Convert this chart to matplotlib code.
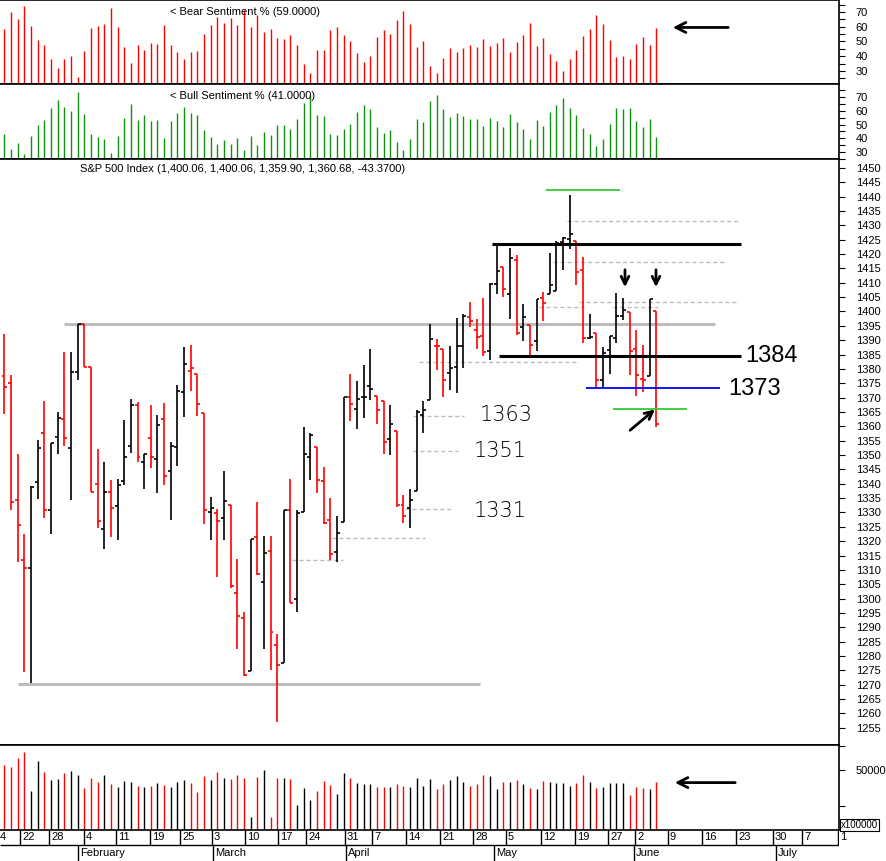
import numpy as np
import matplotlib
matplotlib.use("Agg")
from matplotlib import pyplot as plt

# daily bars, oldest first
opens = [1377.4, 1375.1, 1334.2, 1313.4, 1310.6, 1340.5, 1357.5, 1330.7, 1356.2, 1362.5,
         1352.3, 1378.8, 1395.5, 1380.5, 1339.8, 1324.1, 1337.0, 1332.1, 1340.8, 1353.0,
         1367.3, 1347.7, 1355.8, 1348.5, 1362.5, 1344.3, 1352.7, 1371.8, 1379.2, 1378.2,
         1364.5, 1330.3, 1329.7, 1327.9, 1332.5, 1301.8, 1293.4, 1274.6, 1321.3, 1305.6,
         1316.4, 1283.7, 1277.5, 1331.0, 1299.7, 1330.3, 1349.2, 1352.7, 1340.8, 1327.2,
         1316.2, 1326.5, 1370.1, 1365.9, 1370.1, 1373.9, 1370.4, 1368.7, 1355.5, 1358.5,
         1332.7, 1331.6, 1337.3, 1363.8, 1369.0, 1388.1, 1386.8, 1378.4, 1380.7, 1388.1,
         1398.2, 1393.7, 1391.6, 1386.3, 1409.7, 1415.4, 1406.1, 1417.8, 1394.6, 1395.3,
         1389.7, 1404.7, 1406.0, 1407.0, 1424.1, 1425.3, 1424.6, 1414.3, 1390.8, 1392.4,
         1376.0, 1386.7, 1390.6, 1398.3, 1399.7, 1386.9, 1376.5, 1377.4, 1400.06]
highs = [1392.2, 1377.8, 1350.3, 1322.5, 1339.2, 1355.2, 1368.8, 1354.2, 1365.0, 1385.9,
         1385.9, 1395.5, 1395.5, 1380.5, 1352.1, 1347.5, 1341.3, 1341.5, 1362.2, 1369.4,
         1368.5, 1350.3, 1367.4, 1363.9, 1368.1, 1354.5, 1374.4, 1387.6, 1388.3, 1378.2,
         1364.5, 1335.4, 1331.2, 1344.4, 1332.5, 1313.8, 1295.3, 1320.6, 1333.6, 1321.8,
         1321.8, 1287.6, 1330.7, 1341.6, 1330.7, 1359.7, 1357.6, 1352.7, 1345.8, 1335.0,
         1328.7, 1370.3, 1378.2, 1375.8, 1381.4, 1387.0, 1370.4, 1368.7, 1367.5, 1358.5,
         1336.2, 1338.3, 1365.6, 1368.7, 1395.8, 1390.4, 1386.8, 1388.1, 1397.8, 1399.1,
         1403.3, 1397.5, 1404.8, 1410.0, 1422.9, 1415.4, 1422.1, 1419.6, 1402.6, 1395.3,
         1404.5, 1406.8, 1420.4, 1424.5, 1425.8, 1440.6, 1424.6, 1418.9, 1399.1, 1392.4,
         1387.5, 1391.6, 1406.4, 1404.8, 1399.7, 1393.6, 1388.4, 1404.3, 1400.06]
lows = [1364.4, 1330.9, 1312.8, 1274.5, 1270.7, 1334.8, 1328.2, 1322.6, 1350.3, 1353.1,
        1334.4, 1376.1, 1380.5, 1337.0, 1324.7, 1317.4, 1321.5, 1320.5, 1339.5, 1350.8,
        1347.7, 1338.3, 1345.6, 1336.9, 1339.7, 1327.5, 1346.2, 1363.4, 1372.3, 1363.7,
        1326.1, 1320.5, 1307.6, 1320.5, 1303.8, 1282.5, 1273.2, 1274.6, 1308.3, 1282.5,
        1275.2, 1257.1, 1277.5, 1298.5, 1295.4, 1330.3, 1341.4, 1336.9, 1326.1, 1313.5,
        1312.7, 1326.5, 1362.0, 1359.2, 1363.0, 1369.3, 1360.9, 1350.5, 1350.1, 1332.0,
        1326.4, 1324.7, 1337.3, 1357.8, 1369.0, 1379.7, 1370.3, 1372.8, 1371.7, 1380.4,
        1394.7, 1387.0, 1384.6, 1383.2, 1406.2, 1404.9, 1397.5, 1391.7, 1389.8, 1384.6,
        1386.3, 1396.8, 1406.0, 1407.0, 1414.5, 1421.8, 1409.3, 1389.1, 1390.5, 1373.8,
        1373.2, 1378.3, 1388.9, 1397.0, 1378.0, 1370.7, 1371.8, 1377.4, 1359.90]
closes = [1373.7, 1333.5, 1325.5, 1310.6, 1338.7, 1352.4, 1330.7, 1354.2, 1362.8, 1355.9,
          1378.8, 1395.5, 1380.8, 1337.0, 1326.9, 1337.0, 1331.4, 1339.5, 1349.3, 1367.3,
          1349.3, 1350.3, 1349.3, 1360.3, 1342.7, 1353.0, 1372.2, 1381.7, 1380.2, 1367.6,
          1330.7, 1331.4, 1326.9, 1333.9, 1304.5, 1293.9, 1273.5, 1320.6, 1308.7, 1315.7,
          1288.2, 1276.7, 1330.7, 1298.5, 1329.7, 1350.2, 1356.9, 1341.2, 1326.4, 1315.4,
          1322.8, 1370.3, 1367.6, 1369.4, 1370.3, 1372.9, 1365.6, 1354.4, 1360.7, 1332.7,
          1328.9, 1334.5, 1364.9, 1365.6, 1390.3, 1388.1, 1376.0, 1380.2, 1388.1, 1398.5,
          1396.6, 1391.2, 1386.0, 1409.5, 1414.1, 1407.8, 1418.5, 1392.6, 1398.1, 1388.3,
          1404.3, 1403.1, 1409.1, 1423.9, 1425.5, 1427.0, 1413.6, 1390.8, 1391.0, 1376.0,
          1385.6, 1391.3, 1398.5, 1400.4, 1386.1, 1377.9, 1376.1, 1404.3, 1360.68]

bear = [58.5, 70.0, 65.3, 74.3, 60.7, 51.0, 47.6, 38.1, 32.0, 38.1, 40.2, 25.9, 43.6, 59.2,
        60.5, 61.9, 72.7, 59.8, 46.3, 35.4, 47.6, 44.2, 49.0, 48.3, 61.2, 47.6, 42.9, 38.1,
        42.9, 43.6, 55.1, 61.2, 66.6, 62.5, 65.9, 61.2, 71.4, 59.8, 68.0, 56.4, 58.5, 52.4,
        51.7, 54.4, 47.6, 34.7, 28.6, 44.2, 44.2, 57.8, 59.8, 54.4, 50.3, 42.2, 36.1, 40.2,
        53.1, 57.8, 55.1, 64.6, 70.7, 61.9, 46.3, 50.3, 33.4, 28.6, 38.8, 45.6, 42.9, 45.6,
        47.6, 46.3, 51.7, 46.9, 49.0, 52.4, 42.9, 49.7, 54.4, 62.5, 46.9, 52.4, 41.5, 36.8,
        30.0, 38.1, 44.2, 53.7, 58.5, 68.0, 61.9, 51.0, 39.5, 40.2, 38.1, 48.3, 53.1, 47.6,
        59.0]
bull = [43.1, 32.2, 36.5, 28.5, 41.6, 49.6, 53.3, 62.0, 67.8, 62.7, 59.8, 73.6, 57.6, 43.1,
        40.9, 39.5, 29.3, 41.6, 54.7, 64.9, 53.3, 56.9, 52.5, 53.3, 40.2, 52.5, 58.4, 62.7,
        58.4, 56.9, 46.0, 40.9, 35.8, 38.7, 35.8, 40.2, 31.5, 41.6, 35.1, 44.5, 42.4, 49.6,
        49.6, 46.7, 54.0, 65.6, 71.5, 56.9, 56.2, 43.1, 42.4, 46.7, 50.4, 59.1, 64.2, 61.3,
        48.2, 43.8, 46.0, 37.3, 31.5, 39.5, 54.0, 51.8, 67.1, 71.5, 61.3, 55.5, 58.4, 56.2,
        54.0, 54.0, 48.9, 54.7, 52.5, 48.2, 57.6, 51.8, 46.7, 39.5, 53.3, 48.9, 59.1, 64.2,
        69.3, 62.0, 56.9, 47.5, 43.1, 34.4, 39.5, 50.4, 62.0, 61.3, 62.0, 52.5, 48.2, 54.0,
        41.0]
volume = [54167, 52778, 60278, 65000, 32778, 57500, 48333, 41667, 42500, 47778, 49167, 45833,
          35278, 43611, 40278, 45833, 38611, 35833, 40833, 39722, 36944, 35833, 36944, 39167,
          37500, 35833, 39722, 41944, 39167, 31944, 44722, 41944, 48333, 43611, 42500, 45833,
          43611, 10833, 44167, 50000, 10833, 43611, 43611, 42500, 20833, 35278, 25278, 32500,
          40833, 37500, 30278, 47778, 43611, 39167, 38056, 38056, 35833, 35833, 35833, 38056,
          36389, 35833, 43611, 36389, 42500, 34167, 38611, 41944, 45278, 39722, 36944, 38611,
          45833, 45278, 34167, 39722, 40278, 41389, 38611, 35278, 34167, 40833, 39722, 39167,
          39167, 36944, 39167, 45833, 40278, 34722, 35833, 39167, 39167, 39167, 29167, 35833,
          35278, 34167, 40278]

day_labels = ['4', '22', '28', '4', '11', '19', '25', '3', '10', '17', '24', '31', '7', '14',
              '21', '28', '5', '12', '19', '27', '2', '9', '16', '23', '30', '7', '1']
day_px = [-2, 20, 49, 84, 116, 150, 180, 212, 245, 278, 306, 345, 372, 406, 440, 473, 506,
          541, 575, 608, 635, 668, 702, 736, 773, 802, 838]
months = ['February', 'March', 'April', 'May', 'June', 'July']
month_px = [78, 213, 346, 494, 634, 776]


def px2x(p):
    return (np.asarray(p, dtype=float) - 4.5) / 6.65


W, H = 887, 861
fig = plt.figure(figsize=(W / 100, H / 100), dpi=100)
plt.rcParams["font.family"] = "Liberation Sans"
FS = 8
LW = 1.0
XL = (px2x(0), px2x(839))


def band(top, bottom):
    return [0, 1 - bottom / H, 839 / W, (bottom - top) / H]


def style(ax):
    ax.set_xlim(*XL)
    ax.yaxis.tick_right()
    ax.tick_params(axis='y', labelsize=FS, length=4, width=0.8, pad=8)
    ax.tick_params(axis='y', which='minor', length=4, width=0.8)
    ax.set_xticks([])
    ax.spines['left'].set_visible(False)
    for s in ('top', 'bottom', 'right'):
        ax.spines[s].set_linewidth(1.2)


ax_bear = fig.add_axes(band(0, 84))
ax_bull = fig.add_axes(band(84, 159))
ax_px = fig.add_axes(band(159, 745))
ax_vol = fig.add_axes(band(745, 830))
ax_dt = fig.add_axes([0, 0, 839 / W, 31 / H])

# sentiment panels
xb = np.arange(len(bear))
ax_bear.vlines(xb, 0, bear, color='#ff0000', lw=LW)
ax_bear.set_ylim(21.2, 78.1)
ax_bear.set_yticks([30, 40, 50, 60, 70])
ax_bear.set_yticks([25, 35, 45, 55, 65, 75], minor=True)
style(ax_bear)
ax_bear.text(px2x(170), 70, '< Bear Sentiment % (59.0000)', fontsize=FS, va='center')
ax_bear.annotate('', xy=(px2x(670), 59.5), xytext=(px2x(731), 59.5),
                 arrowprops=dict(arrowstyle='->', lw=2, color='black', mutation_scale=18))

xu = np.arange(len(bull))
ax_bull.vlines(xu, 0, bull, color='#109010', lw=LW)
ax_bull.set_ylim(24.9, 79.5)
ax_bull.set_yticks([30, 40, 50, 60, 70])
ax_bull.set_yticks([25, 35, 45, 55, 65, 75], minor=True)
style(ax_bull)
ax_bull.text(px2x(170), 71, '< Bull Sentiment % (41.0000)', fontsize=FS, va='center')

# price bars
x = np.arange(len(closes))
prev = np.r_[closes[0], closes[:-1]]
cols = np.where(np.asarray(closes) < prev, '#ff0000', 'black')
cols[0] = '#ff0000'
tk = 0.45
ax_px.vlines(x, lows, highs, colors=cols, lw=1.2)
ax_px.hlines(opens, x - tk, x, colors=cols, lw=1.2)
ax_px.hlines(closes, x, x + tk, colors=cols, lw=1.2)
ax_px.set_ylim(1249.0, 1453.1)
ax_px.set_yticks(np.arange(1255, 1451, 5))
style(ax_px)
ax_px.text(px2x(80), 1449.5, 'S&P 500 Index (1,400.06, 1,400.06, 1,359.90, 1,360.68, -43.3700)',
           fontsize=FS, va='center')

# support / resistance lines
ax_px.hlines(1395.5, px2x(64), px2x(715), color='#bdbdbd', lw=2.2, zorder=0)
ax_px.hlines(1270.2, px2x(18), px2x(480), color='#bdbdbd', lw=2.2, zorder=0)
ax_px.hlines([1423.5, 1384.4], [px2x(492), px2x(499)], px2x(741), color='black', lw=2.2)
ax_px.hlines(1373.2, px2x(586), px2x(720), color='#0000ff', lw=1.3)
ax_px.hlines(1366.0, px2x(613), px2x(687), color='#33cc33', lw=1.3)
ax_px.hlines(1442.2, px2x(546), px2x(620), color='#33cc33', lw=1.3)
dash_y = [1431.4, 1417.1, 1403.2, 1401.5, 1401.5, 1382.4, 1363.5, 1351.4, 1331.2, 1321.0, 1313.4]
dash_a = [567, 553, 579, 539, 613, 419, 413, 413, 405, 332, 292]
dash_b = [738, 724, 738, 584, 658, 578, 464, 458, 452, 425, 343]
ax_px.hlines(dash_y, px2x(dash_a), px2x(dash_b), color='#bdbdbd', lw=1, linestyles=(0, (3, 2)),
             zorder=0)

hand = dict(fontsize=15, family='DejaVu Sans', fontweight='light', va='center')
ax_px.text(px2x(480), 1363.8, '1363', **hand)
ax_px.text(px2x(474), 1351.5, '1351', **hand)
ax_px.text(px2x(474), 1330.5, '1331', **hand)
ax_px.text(px2x(745), 1384.5, '1384', fontsize=17, va='center')
ax_px.text(px2x(728), 1373.0, '1373', fontsize=17, va='center')
arr = dict(arrowstyle='->', lw=2, color='black', mutation_scale=14)
ax_px.annotate('', xy=(px2x(625), 1407.5), xytext=(px2x(625), 1415.5), arrowprops=arr)
ax_px.annotate('', xy=(px2x(656), 1407.5), xytext=(px2x(656), 1415.5), arrowprops=arr)
ax_px.annotate('', xy=(px2x(657), 1366.5), xytext=(px2x(628), 1358.0), arrowprops=arr)

# volume
xv = np.arange(len(volume))
ax_vol.vlines(xv, 0, volume, colors=cols[:len(volume)], lw=LW)
ax_vol.set_ylim(0, 70833)
ax_vol.set_yticks([50000])
ax_vol.set_yticks([20000, 70000], minor=True)
style(ax_vol)
ax_vol.annotate('', xy=(px2x(672), 39500), xytext=(px2x(738), 39500),
                arrowprops=dict(arrowstyle='->', lw=2, color='black', mutation_scale=18))
fig.text(839 / W + 0.002, 1 - 825 / H, 'x100000', fontsize=7, va='center',
         bbox=dict(boxstyle='square,pad=0.1', fc='white', ec='black', lw=0.8))

# date strip
ax_dt.set_xlim(*XL)
ax_dt.set_ylim(0, 31)
ax_dt.axis('off')
ax_dt.hlines(16, XL[0], XL[1], color='black', lw=1)
ax_dt.vlines(px2x(day_px), 16, 31, color='black', lw=1)
for p, s in zip(day_px, day_labels):
    ax_dt.text(px2x(p + 2), 23.5, s, fontsize=FS, va='center')
ax_dt.vlines(px2x(month_px), 0, 16, color='black', lw=1)
for p, s in zip(month_px, months):
    ax_dt.text(px2x(p + 2), 8, s, fontsize=FS, va='center')

fig.savefig('out.png', dpi=100)
